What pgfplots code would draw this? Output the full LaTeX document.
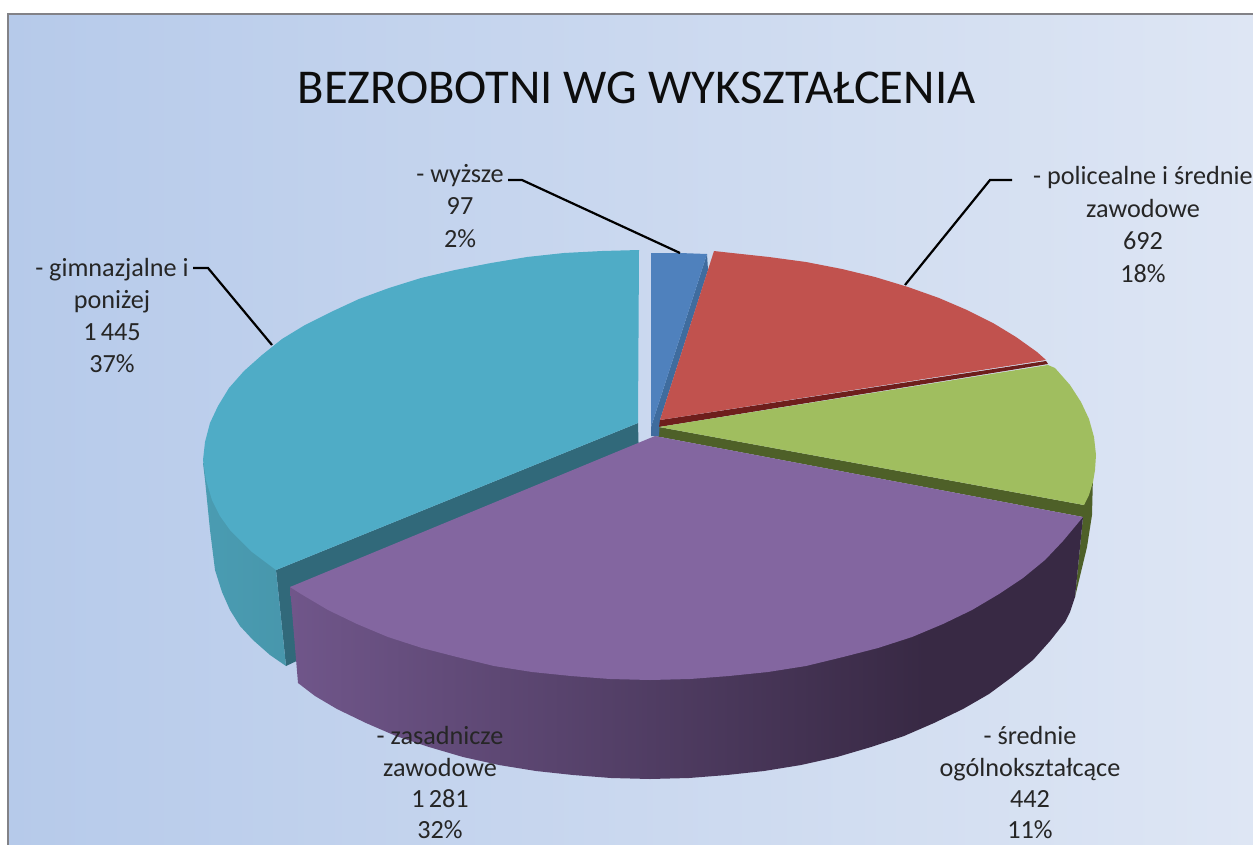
\documentclass[border=0pt]{standalone}
\usepackage{pgfplots}
\pgfplotsset{compat=1.18}
\usepackage{fontspec}
\setmainfont{Carlito}
\definecolor{bgL}{RGB}{182,202,234}
\definecolor{bgR}{RGB}{222,230,244}
\definecolor{pTop}{RGB}{131,102,160}
\definecolor{pA}{RGB}{112,86,138}
\definecolor{pB}{RGB}{84,64,104}
\definecolor{pC}{RGB}{56,41,68}
\definecolor{tTop}{RGB}{79,172,198}
\definecolor{tSide}{RGB}{74,156,178}
\definecolor{tDark}{RGB}{49,105,122}
\definecolor{bTop}{RGB}{79,129,189}
\definecolor{bDark}{RGB}{63,108,158}
\definecolor{rTop}{RGB}{193,82,78}
\definecolor{rDark}{RGB}{110,30,28}
\definecolor{gTop}{RGB}{160,190,95}
\definecolor{gDark}{RGB}{78,96,40}
\pgfdeclarehorizontalshading{purpleside}{100bp}{color(0bp)=(pA); color(25bp)=(pA); color(45bp)=(pB); color(65bp)=(pC); color(100bp)=(pC)}
\begin{document}
\begin{tikzpicture}
\begin{axis}[
  scale only axis, width=1253pt, height=844pt,
  xmin=0, xmax=1253, ymin=0, ymax=844, y dir=reverse,
  hide axis, clip=true]
% page
\addplot[fill=white, draw=none] coordinates {(0,0)(1253,0)(1253,844)(0,844)} --cycle;
% background panel
\addplot[draw=none, left color=bgL, right color=bgR] coordinates {(8,14)(1253,14)(1253,844)(8,844)} --cycle;
\addplot[draw={rgb,255:red,130;green,130;blue,135}, line width=2.4pt] coordinates {(8,850)(8,14)(1260,14)};
% green outer side
\addplot[fill=gDark, draw=none] coordinates {(659,427)(1084,505)(1093,475)(1092,515)(1087,547)(1075,597)(1083,517)(655,436)} --cycle;
% teal wall
\addplot[fill=tDark, draw=none] coordinates {(638,423)(276,570)(286,666)(640,500)} --cycle;
% teal side
\addplot[draw=none, left color=tSide, right color=tSide!92!black] coordinates {(203,463)(205,480)(210,530)(215,570)(222,592)(230,610)(240,626)(253,640)(270,655)(286,666)(276,570)(400,400)} --cycle;
% teal top
\addplot[fill=tTop, draw=none] coordinates {(639,250)(602,251)(564,253)(527,257)(491,263)(455,270)(421,278)(389,288)(359,299)(331,312)(305,325)(282,339)(262,355)(244,371)(229,388)(218,406)(210,423)(205,442)(203,460)(206,480)(212,500)(220,516)(230,530)(252,552)(276,570)(638,423)} --cycle;
% blue wall and top
\addplot[fill=bDark, draw=none] coordinates {(707,254)(708,270)(660,420)(659,436)(651,436)(651,427)} --cycle;
\addplot[fill=bTop, draw=none] coordinates {(651,253)(680,253)(707,254)(651,427)} --cycle;
% red wall and top
\addplot[fill=rDark, draw=none] coordinates {(660,420)(1046,361)(1048,364)(659,427)} --cycle;
\addplot[fill=rTop, draw=none] coordinates {(714,251)(732,253)(769,257)(806,262)(842,269)(875,277)(908,287)(939,298)(967,310)(993,323)(1016,337)(1037,352)(1046,360)(660,420)} --cycle;
% green top
\addplot[fill=gTop, draw=none] coordinates {(1048,365)(1055,368)(1070,385)(1081,402)(1089,419)(1094,437)(1096,455)(1095,470)(1093,482)(1089,495)(1084,505)(659,427)} --cycle;
% purple side
\addplot[draw=none, shade, shading=purpleside] coordinates {(1083,517)(1075,597)(1070,612)(1065,622)(1050,641)(1033,660)(1012,677)(989,694)(963,709)(934,723)(904,736)(871,747)(837,757)(801,765)(764,771)(727,775)(689,778)(650,779)(611,778)(573,775)(536,771)(499,765)(463,757)(429,747)(396,736)(366,723)(337,709)(315,696)(298,683)(290,587)} --cycle;
% purple top
\addplot[fill=pTop, draw=none] coordinates {(1083,517)(1063,541)(1045,560)(1023,578)(999,594)(972,610)(943,624)(912,637)(878,648)(843,657)(806,666)(768,672)(729,676)(690,679)(650,680)(610,679)(571,676)(532,672)(494,666)(457,657)(422,648)(388,637)(357,624)(328,610)(301,594)(290,587)(655,436)} --cycle;
% leader lines
\addplot[black, line width=2.2pt] coordinates {(508,180)(522,180)(680,253)};
\addplot[black, line width=2.2pt] coordinates {(1012,180)(990,180)(905,285)};
\addplot[black, line width=2.2pt] coordinates {(193,268)(208,268)(272,345)};
% text
\node[text=black!95, font=\fontsize{48.6}{54}\selectfont] at (axis cs:636.5,88) {BEZROBOTNI WG WYKSZTAŁCENIA};
\node[align=center, text=black!85, font=\fontsize{26.2}{32.2}\selectfont, anchor=north] at (axis cs:460,161) {- wyższe\\97\\2\%};
\node[align=center, text=black!85, font=\fontsize{26.2}{32.5}\selectfont, anchor=north] at (axis cs:1143,163) {- policealne i średnie\\zawodowe\\692\\18\%};
\node[align=center, text=black!85, font=\fontsize{26.2}{32}\selectfont, anchor=north] at (axis cs:112,255) {- gimnazjalne i\\poniżej\\1\,445\\37\%};
\node[align=center, text=black!85, font=\fontsize{26.2}{31.4}\selectfont, anchor=north] at (axis cs:440,723) {- zasadnicze\\zawodowe\\1\,281\\32\%};
\node[align=center, text=black!85, font=\fontsize{26.2}{31.4}\selectfont, anchor=north] at (axis cs:1030,723) {- średnie\\ogólnokształcące\\442\\11\%};
\end{axis}
\end{tikzpicture}
\end{document}
